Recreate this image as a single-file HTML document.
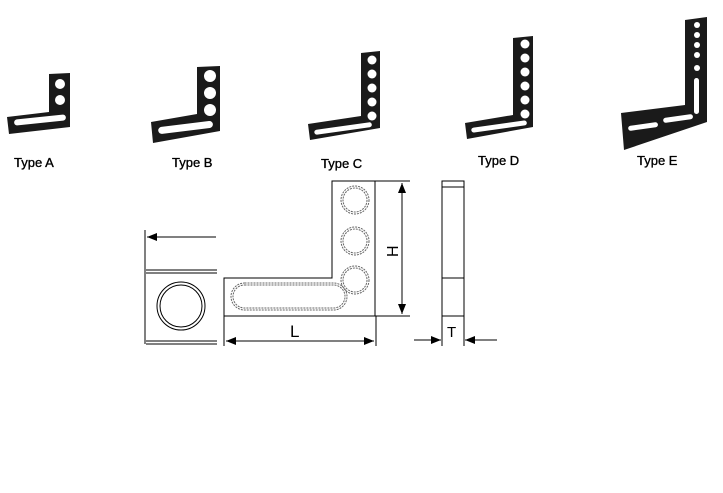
<!DOCTYPE html>
<html><head><meta charset="utf-8"><style>
html,body{margin:0;padding:0;background:#fff;}
svg{display:block;}
text{font-family:"Liberation Sans",sans-serif;}
</style></head><body>
<svg width="723" height="493" viewBox="0 0 723 493" xmlns="http://www.w3.org/2000/svg">
<defs>
<marker id="ar" markerWidth="10" markerHeight="8" refX="10" refY="4" orient="auto" markerUnits="userSpaceOnUse">
<path d="M0,0 L10,4 L0,8 Z" fill="#000"/></marker>
<marker id="as" markerWidth="10" markerHeight="8" refX="0" refY="4" orient="auto" markerUnits="userSpaceOnUse">
<path d="M10,0 L0,4 L10,8 Z" fill="#000"/></marker>
</defs>
<!-- Type A -->
<polygon fill="#1a1a1a" points="49,74 70,73 70,127 9,134 7,117 49,112"/>
<g fill="#fff"><circle cx="60" cy="84" r="5"/><circle cx="60" cy="100" r="5"/>
<rect x="14" y="117" width="52" height="6" rx="3" transform="rotate(-6 40 120)"/></g>
<!-- Type B -->
<polygon fill="#1a1a1a" points="197,67 220,66 220,131 153,143 151,122 197,114"/>
<g fill="#fff"><circle cx="210" cy="76" r="6"/><circle cx="210" cy="93" r="6"/><circle cx="210" cy="110" r="6"/>
<rect x="158" y="124" width="55" height="7" rx="3.5" transform="rotate(-7 185 127)"/></g>
<!-- Type C -->
<polygon fill="#1a1a1a" points="361,53 380,51 380,128 310,140 308,124 361,116"/>
<g fill="#fff"><circle cx="372" cy="60" r="4.5"/><circle cx="372" cy="74" r="4.5"/><circle cx="372" cy="88" r="4.5"/><circle cx="372" cy="102" r="4.5"/><circle cx="372" cy="116" r="4.5"/>
<rect x="314" y="126" width="58" height="5" rx="2.5" transform="rotate(-8 343 128)"/></g>
<!-- Type D -->
<polygon fill="#1a1a1a" points="513,38 533,36 533,127 467,139 465,123 513,115"/>
<g fill="#fff"><circle cx="525" cy="44" r="4.5"/><circle cx="525" cy="58" r="4.5"/><circle cx="525" cy="72" r="4.5"/><circle cx="525" cy="86" r="4.5"/><circle cx="525" cy="100" r="4.5"/><circle cx="525" cy="114" r="4.5"/>
<rect x="471" y="124" width="56" height="5" rx="2.5" transform="rotate(-8 499 126)"/></g>
<!-- Type E -->
<polygon fill="#1a1a1a" points="685,20 707,17 707,122 624,150 621,113 685,105"/>
<g fill="#fff"><circle cx="697" cy="25" r="3"/><circle cx="697" cy="35" r="3"/><circle cx="697" cy="45" r="3"/><circle cx="697" cy="55" r="3"/><circle cx="697" cy="68" r="3"/>
<rect x="694" y="78" width="5" height="36" rx="2.5"/>
<rect x="628" y="124" width="30" height="5" rx="2.5" transform="rotate(-8 643 126)"/>
<rect x="663" y="116" width="30" height="5" rx="2.5" transform="rotate(-8 678 118)"/></g>
<g font-size="13" fill="#000" stroke="#000" stroke-width="0.35">
<text x="14" y="167">Type A</text>
<text x="172" y="167">Type B</text>
<text x="321" y="168">Type C</text>
<text x="478" y="165">Type D</text>
<text x="637" y="165">Type E</text>
</g>
<!-- Main drawing -->
<g fill="none" stroke="#000" stroke-width="1">
<path d="M332,181 H375 V316 H224 V278 H332 Z"/>
<line x1="375" y1="181" x2="410" y2="181"/>
<line x1="375" y1="316" x2="410" y2="316"/>
<line x1="402" y1="183" x2="402" y2="314" marker-start="url(#as)" marker-end="url(#ar)"/>
<line x1="224" y1="316" x2="224" y2="346"/>
<line x1="376" y1="316" x2="376" y2="346"/>
<line x1="226" y1="341" x2="374" y2="341" marker-start="url(#as)" marker-end="url(#ar)"/>
</g>
<g fill="none" stroke="#666" stroke-width="1" stroke-dasharray="2,1">
<circle cx="355" cy="200" r="14"/><circle cx="355" cy="200" r="12"/>
<circle cx="355" cy="241" r="14"/><circle cx="355" cy="241" r="12"/>
<circle cx="355" cy="280" r="14"/><circle cx="355" cy="280" r="12"/>
<rect x="231" y="283" width="116" height="27" rx="13.5"/>
<rect x="233" y="285" width="112" height="23" rx="11.5"/>
</g>
<text x="0" y="0" font-size="16" transform="translate(398,257) rotate(-90)">H</text>
<text x="290" y="337" font-size="17">L</text>
<!-- left view -->
<g fill="none" stroke="#000" stroke-width="1">
<line x1="145" y1="230" x2="145" y2="344"/>
<line x1="216" y1="237" x2="147" y2="237" marker-end="url(#ar)"/>
<line x1="146" y1="270" x2="217" y2="270"/>
<line x1="146" y1="273" x2="217" y2="273"/>
<line x1="146" y1="341" x2="217" y2="341"/>
<line x1="146" y1="344" x2="217" y2="344"/>
<circle cx="181" cy="306" r="24"/>
<circle cx="181" cy="306" r="21"/>
</g>
<!-- side view -->
<g fill="none" stroke="#000" stroke-width="1">
<rect x="442" y="181" width="22" height="135"/>
<line x1="442" y1="187" x2="464" y2="187"/>
<line x1="442" y1="278" x2="464" y2="278"/>
<line x1="442" y1="316" x2="442" y2="346"/>
<line x1="464" y1="316" x2="464" y2="346"/>
<line x1="414" y1="340" x2="441" y2="340" marker-end="url(#ar)"/>
<line x1="497" y1="340" x2="465" y2="340" marker-end="url(#ar)"/>
</g>
<text x="447" y="337" font-size="15">T</text>
</svg>
</body></html>
